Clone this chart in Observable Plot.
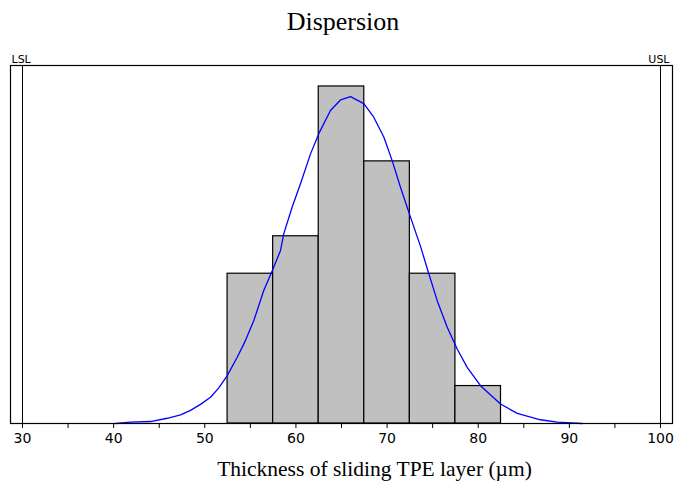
<!DOCTYPE html>
<html>
<head>
<meta charset="utf-8">
<script src="https://cdn.jsdelivr.net/npm/d3@7"></script>
<script src="https://cdn.jsdelivr.net/npm/@observablehq/plot@0.6"></script>
<style>
  html, body { margin: 0; padding: 0; background: #fff; }
  #title { width: 686px; height: 40px; text-align: center; font-family: "Liberation Serif", "Times New Roman", serif; font-size: 26px; line-height: 44px; color: #000; }
  svg { display: block; }
</style>
</head>
<body>
<div id="title">Dispersion</div>
<div id="chart"></div>
<script>
// Histogram bins (centers) and counts
const binCenters = [55, 60, 65, 70, 75, 80];
const counts = [4, 5, 9, 7, 4, 1];
const binWidth = 5;

// Fitted distribution curve
const curveX = [40.2, 41.85, 44.04, 45.88, 47.34, 48.43, 49.53, 50.63, 51.54, 52.46, 53.56, 54.47, 55.38, 56.47, 57.40, 58.31, 58.67, 59.59, 60.50, 61.60, 62.51, 63.79, 64.89, 65.99, 67.45, 68.54, 69.64, 70.56, 71.47, 72.57, 73.67, 74.58, 75.50, 76.60, 77.69, 78.79, 80.25, 82.45, 84.28, 86.83, 88.67, 91.41];
const curveY = [0.0, 0.035, 0.053, 0.14, 0.23, 0.35, 0.51, 0.70, 0.95, 1.28, 1.77, 2.22, 2.75, 3.55, 4.08, 4.62, 5.07, 5.78, 6.40, 7.20, 7.74, 8.36, 8.64, 8.73, 8.54, 8.18, 7.65, 7.02, 6.31, 5.51, 4.73, 4.00, 3.28, 2.57, 1.99, 1.50, 1.01, 0.52, 0.27, 0.10, 0.035, 0.0];

// Spec limits
const specLimits = [30, 100];
const specLabels = ["LSL", "USL"];

// Axis ticks
const tickValues = [30, 35, 40, 45, 50, 55, 60, 65, 70, 75, 80, 85, 90, 95, 100];
const xLabel = "Thickness of sliding TPE layer (\u00b5m)";

const bars = binCenters.map((c, i) => ({x1: c - binWidth / 2, x2: c + binWidth / 2, y: counts[i]}));
const curve = curveX.map((x, i) => ({x, y: curveY[i]}));

const plot = Plot.plot({
  width: 676,
  height: 444,
  marginTop: 25,
  marginBottom: 61,
  marginLeft: 10,
  marginRight: 4,
  x: {domain: [28.683, 101.317]},
  y: {domain: [0, 9.56], axis: null},
  style: {fontFamily: "DejaVu Sans, sans-serif", fontSize: "14px", color: "#000", background: "#fff", overflow: "visible"},
  marks: [
    Plot.rectY(bars, {x1: "x1", x2: "x2", y: "y", fill: "#c0c0c0", stroke: "#000", strokeWidth: 1.2}),
    Plot.ruleX(specLimits, {stroke: "#000", strokeWidth: 1}),
    Plot.line(curve, {x: "x", y: "y", stroke: "#0000ff", strokeWidth: 1.3}),
    Plot.frame({stroke: "#000", strokeWidth: 1.2}),
    Plot.axisX({ticks: tickValues, tickSize: 5, tickPadding: 5, tickFormat: d => d % 10 === 0 ? String(d) : "", fontSize: 14, label: null}),
    Plot.text([specLabels[0]], {frameAnchor: "top-left", textAnchor: "start", lineAnchor: "bottom", dx: 1, dy: -3, fontSize: 11}),
    Plot.text([specLabels[1]], {frameAnchor: "top-right", textAnchor: "end", lineAnchor: "bottom", dx: -3, dy: -3, fontSize: 11}),
    Plot.text([xLabel], {frameAnchor: "bottom", lineAnchor: "middle", dx: 33, dy: 46, fontSize: 21.5, fontFamily: "Liberation Serif, Times New Roman, serif"})
  ]
});
document.getElementById("chart").appendChild(plot);
</script>
</body>
</html>
